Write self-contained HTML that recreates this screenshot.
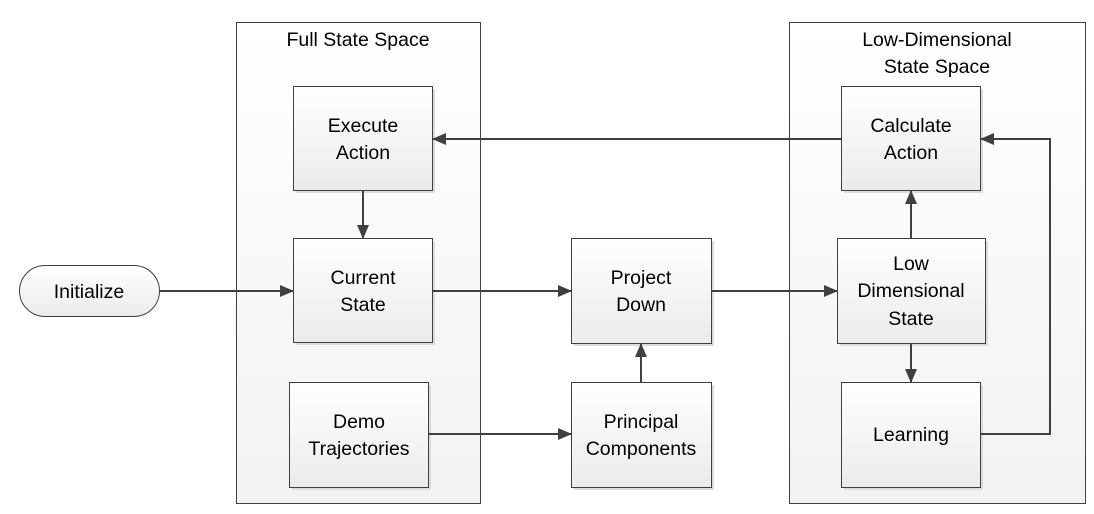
<!DOCTYPE html>
<html><head><style>body{margin:0;background:#fff}svg{display:block}text{font-family:"Liberation Sans",sans-serif;font-size:19.5px;fill:#000;text-anchor:middle}</style></head>
<body>
<svg width="1094" height="514" viewBox="0 0 1094 514">
<defs>
<linearGradient id="g" x1="0" y1="0" x2="0" y2="1"><stop offset="0" stop-color="#ffffff"/><stop offset="1" stop-color="#ebebeb"/></linearGradient>
<linearGradient id="c" x1="0" y1="0" x2="0" y2="1"><stop offset="0" stop-color="#ffffff"/><stop offset="1" stop-color="#f2f2f2"/></linearGradient>
<marker id="a" markerWidth="14" markerHeight="12" refX="13" refY="6" orient="auto" markerUnits="userSpaceOnUse"><path d="M0,0 L14,6 L0,12 z" fill="#404040"/></marker>
</defs>
<rect x="236.5" y="22.5" width="244" height="481" fill="url(#c)" stroke="#404040"/>
<rect x="789.5" y="22.5" width="296" height="481" fill="url(#c)" stroke="#404040"/>
<text x="358" y="46">Full State Space</text>
<text x="937" y="46">Low-Dimensional</text>
<text x="937" y="73">State Space</text>
<g fill="#dcdcdc">
<rect x="296" y="89" width="139" height="104"/><rect x="296" y="241" width="139" height="104"/><rect x="292" y="385" width="139" height="105"/>
<rect x="574" y="241" width="140" height="105"/><rect x="574" y="385" width="140" height="105"/>
<rect x="844" y="89" width="139" height="104"/><rect x="840" y="241" width="148" height="105"/><rect x="844" y="385" width="139" height="105"/>
</g>
<g fill="url(#g)" stroke="#404040">
<rect x="293.5" y="86.5" width="139" height="104"/><rect x="293.5" y="238.5" width="139" height="104"/><rect x="289.5" y="382.5" width="139" height="105"/>
<rect x="571.5" y="238.5" width="140" height="105"/><rect x="571.5" y="382.5" width="140" height="105"/>
<rect x="841.5" y="86.5" width="139" height="104"/><rect x="837.5" y="238.5" width="148" height="105"/><rect x="841.5" y="382.5" width="139" height="105"/>
<rect x="19.5" y="265.5" width="140" height="51" rx="25.5"/>
</g>
<text x="363" y="132">Execute</text><text x="363" y="159">Action</text>
<text x="363" y="284">Current</text><text x="363" y="311">State</text>
<text x="359" y="428">Demo</text><text x="359" y="455">Trajectories</text>
<text x="641" y="284">Project</text><text x="641" y="311">Down</text>
<text x="641" y="428">Principal</text><text x="641" y="455">Components</text>
<text x="911" y="132">Calculate</text><text x="911" y="159">Action</text>
<text x="911" y="270">Low</text><text x="911" y="297">Dimensional</text><text x="911" y="325">State</text>
<text x="911" y="441">Learning</text>
<text x="89" y="298">Initialize</text>
<g stroke="#404040" stroke-width="2" fill="none" marker-end="url(#a)">
<path d="M841,139 H433"/>
<path d="M363,191 V238"/>
<path d="M160,291 H293"/>
<path d="M433,291 H571"/>
<path d="M711,291 H837"/>
<path d="M429,434 H571"/>
<path d="M641,382 V344"/>
<path d="M911,238 V191"/>
<path d="M911,344 V382"/>
<path d="M980,434 H1050 V139 H981"/>
</g>
</svg>
</body></html>
